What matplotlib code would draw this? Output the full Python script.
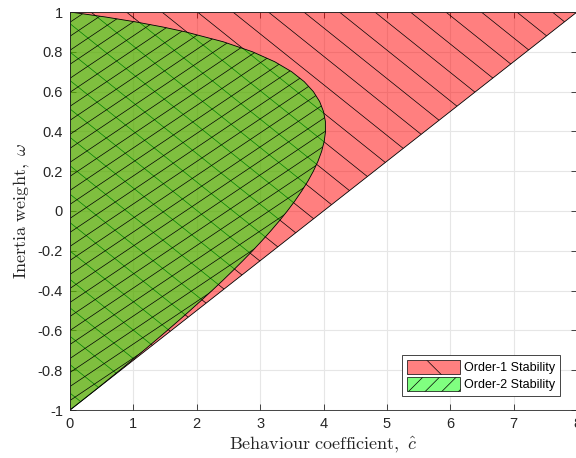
import numpy as np
import matplotlib
matplotlib.use("Agg")
import matplotlib.pyplot as plt
from matplotlib.patches import Polygon, Patch
from matplotlib.collections import LineCollection

# DATA
# order-1 stability region (triangle), behaviour coefficient vs inertia weight
order1_c = [0, 8, 0]
order1_w = [-1, 1, 1]
# order-2 stability boundary
order2_w = [-1.0, -0.95, -0.9, -0.85, -0.8, -0.75, -0.7, -0.65, -0.6, -0.55,
            -0.5, -0.45, -0.4, -0.35, -0.3, -0.25, -0.2, -0.15, -0.1, -0.05,
            0.0, 0.05, 0.1, 0.15, 0.2, 0.25, 0.3, 0.35, 0.4, 0.45,
            0.5, 0.55, 0.6, 0.65, 0.7, 0.75, 0.8, 0.85, 0.9, 0.925,
            0.95, 0.975, 1.0]
order2_c = [0.0, 0.199, 0.397, 0.592, 0.786, 0.977, 1.166, 1.352, 1.536, 1.717,
            1.895, 2.069, 2.240, 2.407, 2.569, 2.727, 2.880, 3.027, 3.168, 3.302,
            3.429, 3.547, 3.655, 3.754, 3.840, 3.913, 3.971, 4.011, 4.032, 4.030,
            4.000, 3.939, 3.840, 3.696, 3.497, 3.231, 2.880, 2.422, 1.824, 1.459,
            1.040, 0.558, 0.0]
x_ticks = [0, 1, 2, 3, 4, 5, 6, 7, 8]
y_ticks = [-1, -0.8, -0.6, -0.4, -0.2, 0, 0.2, 0.4, 0.6, 0.8, 1]
legend_labels = ["Order-1 Stability", "Order-2 Stability"]

plt.rcParams['font.family'] = ['Liberation Sans', 'DejaVu Sans']
plt.rcParams['mathtext.fontset'] = 'cm'
plt.rcParams['hatch.linewidth'] = 0.5

AX_COL = '#262626'
fig = plt.figure(figsize=(5.76, 4.58), dpi=100)
ax = fig.add_axes([70/576, 48/458, 507/576, 398/458])
ax.set_xlim(0, 8)
ax.set_ylim(-1, 1)

# order-1 region
red = Polygon(np.column_stack([order1_c, order1_w]), closed=True,
              facecolor=(1, 0, 0, 0.5), edgecolor='black', lw=0.6, zorder=2)
ax.add_patch(red)
# hatch '\' lines for the red region
cc = np.arange(-12, 14, 0.56) + 0.01
segs = [[(c0, 1), (c0 + 8, 1 - 8*0.255)] for c0 in cc]
lc = LineCollection(segs, colors='black', lw=0.5, zorder=2.5)
ax.add_collection(lc)
lc.set_clip_path(red)

# order-2 region
green = Polygon(np.column_stack([order2_c, order2_w]), closed=True,
                facecolor=(0, 1, 0, 0.5), edgecolor='black', lw=0.6, zorder=3)
ax.add_patch(green)
ww = np.arange(-3, 1.2, 0.0704) + 0.851 % 0.0704
segs = [[(0, w0), (8, w0 + 8*0.2135)] for w0 in ww]
lc2 = LineCollection(segs, colors='black', lw=0.5, zorder=3.5)
ax.add_collection(lc2)
lc2.set_clip_path(green)

# axes styling (MATLAB-ish)
ax.set_xticks(x_ticks)
ax.set_yticks(y_ticks)
ax.set_yticklabels([f"{v:g}" for v in y_ticks])
ax.grid(True, color='#e6e6e6', lw=0.8)
ax.set_axisbelow(True)
ax.tick_params(direction='in', length=4, width=0.6, colors=AX_COL,
               labelsize=10.5, top=True, right=True, pad=5)
for s in ax.spines.values():
    s.set_color(AX_COL)
    s.set_linewidth(0.6)
    s.set_zorder(5)

ax.set_xlabel(r'$\mathrm{Behaviour\ coefficient,}\ \hat{c}$', fontsize=13,
              color=AX_COL, labelpad=3)
ax.set_ylabel(r'$\mathrm{Inertia\ weight,}\ \omega$', fontsize=13,
              color=AX_COL, labelpad=4)

handles = [Patch(facecolor=(1, 0.5, 0.5), edgecolor='black', hatch='\\', lw=0.5),
           Patch(facecolor=(0.5, 1, 0.5), edgecolor='black', hatch='//', lw=0.5)]
leg = ax.legend(handles, legend_labels, loc='lower right',
                bbox_to_anchor=(0.9665, 0.035), borderaxespad=0, fontsize=9,
                fancybox=False, framealpha=1, edgecolor=AX_COL,
                handlelength=4.2, handleheight=1.3, handletextpad=0.35,
                labelspacing=0.25, borderpad=0.4)
leg.get_frame().set_linewidth(0.6)
leg.set_zorder(6)

fig.savefig("out.png", dpi=100)
